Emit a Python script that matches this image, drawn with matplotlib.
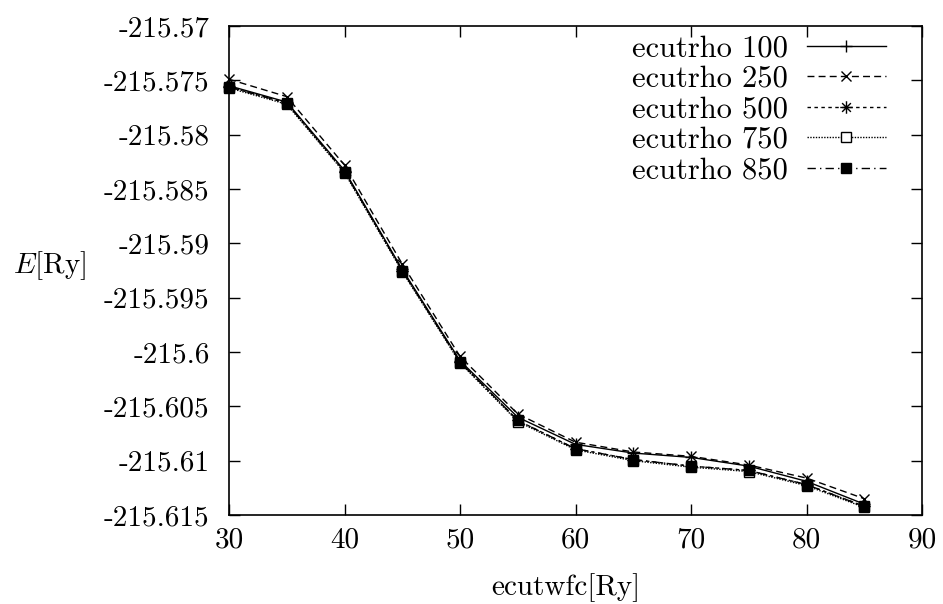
import matplotlib
matplotlib.use("Agg")
import matplotlib.pyplot as plt
from matplotlib.path import Path

plt.rcParams['font.family'] = ['cmr10', 'DejaVu Serif']
plt.rcParams['mathtext.fontset'] = 'cm'
plt.rcParams['axes.unicode_minus'] = False

ecutwfc = [30, 35, 40, 45, 50, 55, 60, 65, 70, 75, 80, 85]
e100 = [-215.5755, -215.5770, -215.5833, -215.5924, -215.6008, -215.6060,
        -215.6085, -215.6093, -215.6097, -215.6105, -215.6119, -215.6140]
e250 = [-215.5749, -215.5765, -215.5828, -215.5919, -215.6004, -215.6057,
        -215.6083, -215.6092, -215.6096, -215.6104, -215.6116, -215.6135]
e500 = [-215.5756, -215.5771, -215.5834, -215.5925, -215.6009, -215.6063,
        -215.6089, -215.6099, -215.6105, -215.6109, -215.6122, -215.6142]
e750 = [-215.5757, -215.5772, -215.5835, -215.5926, -215.6010, -215.6064,
        -215.6090, -215.6100, -215.6106, -215.6110, -215.6123, -215.6143]
e850 = [-215.5756, -215.5771, -215.5834, -215.5925, -215.6009, -215.6063,
        -215.6089, -215.6099, -215.6105, -215.6109, -215.6122, -215.6142]
labels = ['ecutrho 100', 'ecutrho 250', 'ecutrho 500', 'ecutrho 750', 'ecutrho 850']

yticks = [-215.57, -215.575, -215.58, -215.585, -215.59, -215.595,
          -215.6, -215.605, -215.61, -215.615]
ytick_labels = ['-215.57', '-215.575', '-215.58', '-215.585', '-215.59',
                '-215.595', '-215.6', '-215.605', '-215.61', '-215.615']
xticks = [30, 40, 50, 60, 70, 80, 90]

star = Path([(-1, 0), (1, 0), (0, -1), (0, 1), (-0.7, -0.7), (0.7, 0.7),
             (-0.7, 0.7), (0.7, -0.7)],
            [Path.MOVETO, Path.LINETO] * 4)

W, H = 943, 604
L, R, T, B = 229, 922, 26, 515
fig = plt.figure(figsize=(W/100, H/100), dpi=100)
ax = fig.add_axes([L/W, 1-B/H, (R-L)/W, (B-T)/H])

lw = 1.0
common = dict(color='black', lw=lw, clip_on=False, mew=1.0)
ax.plot(ecutwfc, e100, ls='-', marker='+', ms=8.5, label=labels[0], **common)
ax.plot(ecutwfc, e250, ls=(0, (5, 3)), marker='x', ms=7, label=labels[1], **common)
ax.plot(ecutwfc, e500, ls=(0, (2.5, 2.5)), marker=star, ms=9, mfc='none',
        label=labels[2], **common)
ax.plot(ecutwfc, e750, ls=(0, (1, 1)), marker='s', ms=7, mfc='white',
        label=labels[3], **common)
ax.plot(ecutwfc, e850, ls=(0, (6, 3, 1, 3)), marker='s', ms=7.5, mfc='black',
        label=labels[4], **common)

ax.set_xlim(30, 90)
ax.set_ylim(-215.615, -215.57)
ax.set_xticks(xticks)
ax.set_xticklabels([str(v) for v in xticks])
ax.set_yticks(yticks)
ax.set_yticklabels(ytick_labels)
ax.tick_params(direction='in', length=8, width=1, labelsize=21,
               top=True, right=True)
ax.tick_params(axis='x', pad=9)
ax.tick_params(axis='y', pad=14)
for s in ax.spines.values():
    s.set_linewidth(1.2)

fig.text(566/W, 1-588/H, 'ecutwfc[Ry]', ha='center', va='center', fontsize=21)
fig.text(50/W, 1-266/H, r'$E[\mathrm{Ry}]$', ha='center', va='center',
         fontsize=21)

leg = ax.legend(loc='upper right', frameon=False, fontsize=22, markerfirst=False,
                handlelength=2.6, labelspacing=0.1, handletextpad=0.6,
                borderpad=0.0, borderaxespad=0.0,
                bbox_to_anchor=((886-L)/(R-L), (B-35)/(B-T)))

fig.savefig('out.png', dpi=100)
